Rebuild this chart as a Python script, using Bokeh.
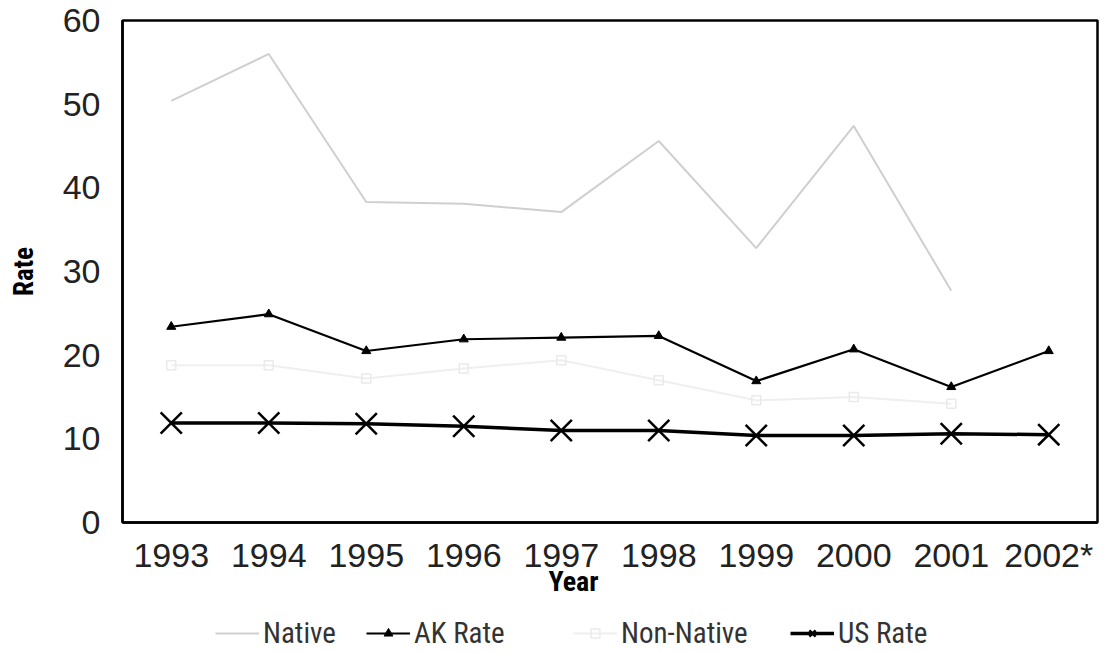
import math
from bokeh.plotting import figure
from bokeh.layouts import column
from bokeh.models import FactorRange, Range1d, Legend, LegendItem, FixedTicker, Label
from bokeh.embed import file_html
from bokeh.resources import INLINE

nan = float("nan")

years = ["1993", "1994", "1995", "1996", "1997", "1998", "1999", "2000", "2001", "2002*"]
native = [50.4, 56.0, 38.3, 38.1, 37.1, 45.6, 32.8, 47.4, 27.7, nan]
non_native = [18.8, 18.8, 17.2, 18.4, 19.4, 17.0, 14.6, 15.0, 14.2, nan]
ak_rate = [23.4, 24.9, 20.5, 21.9, 22.1, 22.3, 16.9, 20.7, 16.2, 20.5]
us_rate = [11.9, 11.9, 11.8, 11.5, 11.0, 11.0, 10.4, 10.4, 10.6, 10.5]
y_ticks = [0, 10, 20, 30, 40, 50, 60]
series_names = ["Native", "AK Rate", "Non-Native", "US Rate"]

NARROW = "Liberation Sans Narrow, Roboto Condensed, Liberation Sans"

STYLE = {
    "Native": dict(line=dict(line_color="#cfcfcf", line_width=2), marker=None),
    "AK Rate": dict(line=dict(line_color="black", line_width=2.2),
                    marker=dict(marker="triangle", size=9, line_color="black", fill_color="black")),
    "Non-Native": dict(line=dict(line_color="#efefef", line_width=2),
                       marker=dict(marker="square", size=9, line_color="#eaeaea",
                                   fill_color=None, line_width=1.5)),
    "US Rate": dict(line=dict(line_color="black", line_width=3.5),
                    marker=dict(marker="x", size=30, line_color="black", line_width=2.5)),
}
values = {"Native": native, "AK Rate": ak_rate, "Non-Native": non_native, "US Rate": us_rate}

p = figure(
    x_range=FactorRange(*years, range_padding=0),
    y_range=Range1d(0, 60),
    frame_width=975, frame_height=502,
    min_border_left=122, min_border_right=10, min_border_top=20, min_border_bottom=0,
    output_backend="svg", toolbar_location=None,
    background_fill_color="white", border_fill_color="white",
)
p.grid.visible = False
p.outline_line_color = "black"
p.outline_line_width = 2.5

for name in series_names:
    st = STYLE[name]
    p.line(years, values[name], **st["line"])
    if st["marker"]:
        p.scatter(years, values[name], **st["marker"])

# axes
for ax in (p.xaxis[0], p.yaxis[0]):
    ax.axis_line_color = "black"
    ax.axis_line_width = 2.5
    ax.major_tick_line_color = None
    ax.minor_tick_line_color = None
    ax.major_tick_out = 0
    ax.major_tick_in = 0
    ax.major_label_text_font = "Liberation Sans"
    ax.major_label_text_font_size = "34px"
    ax.major_label_text_color = "#222222"

p.yaxis.ticker = FixedTicker(ticks=y_ticks)
p.yaxis.major_label_standoff = 22
p.yaxis.axis_label = "Rate"
p.yaxis.axis_label_text_font = NARROW
p.yaxis.axis_label_text_font_style = "bold"
p.yaxis.axis_label_text_color = "black"
p.yaxis.axis_label_text_font_size = "27px"
p.yaxis.axis_label_standoff = 20

p.xaxis.major_label_standoff = 13

# x-axis title, placed left of centre like the reference
xtitle = Label(text="Year", x=451, y=45, x_units="screen", y_units="screen",
               text_align="center", text_baseline="top",
               text_font=NARROW, text_font_style="bold", text_font_size="28px",
               text_color="black")
p.add_layout(xtitle, "below")

# legend strip below the chart (series drawn off-range so only the legend shows)
lg = figure(width=1107, height=42, min_border=0, x_range=Range1d(0, 1), y_range=Range1d(0, 1),
            x_axis_type=None, y_axis_type=None, output_backend="svg", toolbar_location=None,
            outline_line_color=None, background_fill_color="white", border_fill_color="white")
lg.grid.visible = False

idx = list(range(len(years)))
legend_x = {"Native": 93, "AK Rate": 244, "Non-Native": 451, "US Rate": 668}
for name in series_names:
    st = STYLE[name]
    rs = [lg.line(idx, values[name], **st["line"])]
    if st["marker"]:
        rs.append(lg.scatter(idx, values[name], **st["marker"]))
    leg = Legend(
        items=[LegendItem(label=name, renderers=rs)],
        orientation="horizontal",
        location=(legend_x[name], 1),
        label_text_font=NARROW,
        label_text_font_size="29px",
        label_text_color="#333333",
        glyph_width=44, glyph_height=22,
        label_standoff=4,
        padding=0, margin=0,
        border_line_alpha=0, background_fill_alpha=0,
    )
    lg.add_layout(leg)

layout = column(p, lg, spacing=0)
open("out.html", "w").write(file_html(layout, INLINE))
